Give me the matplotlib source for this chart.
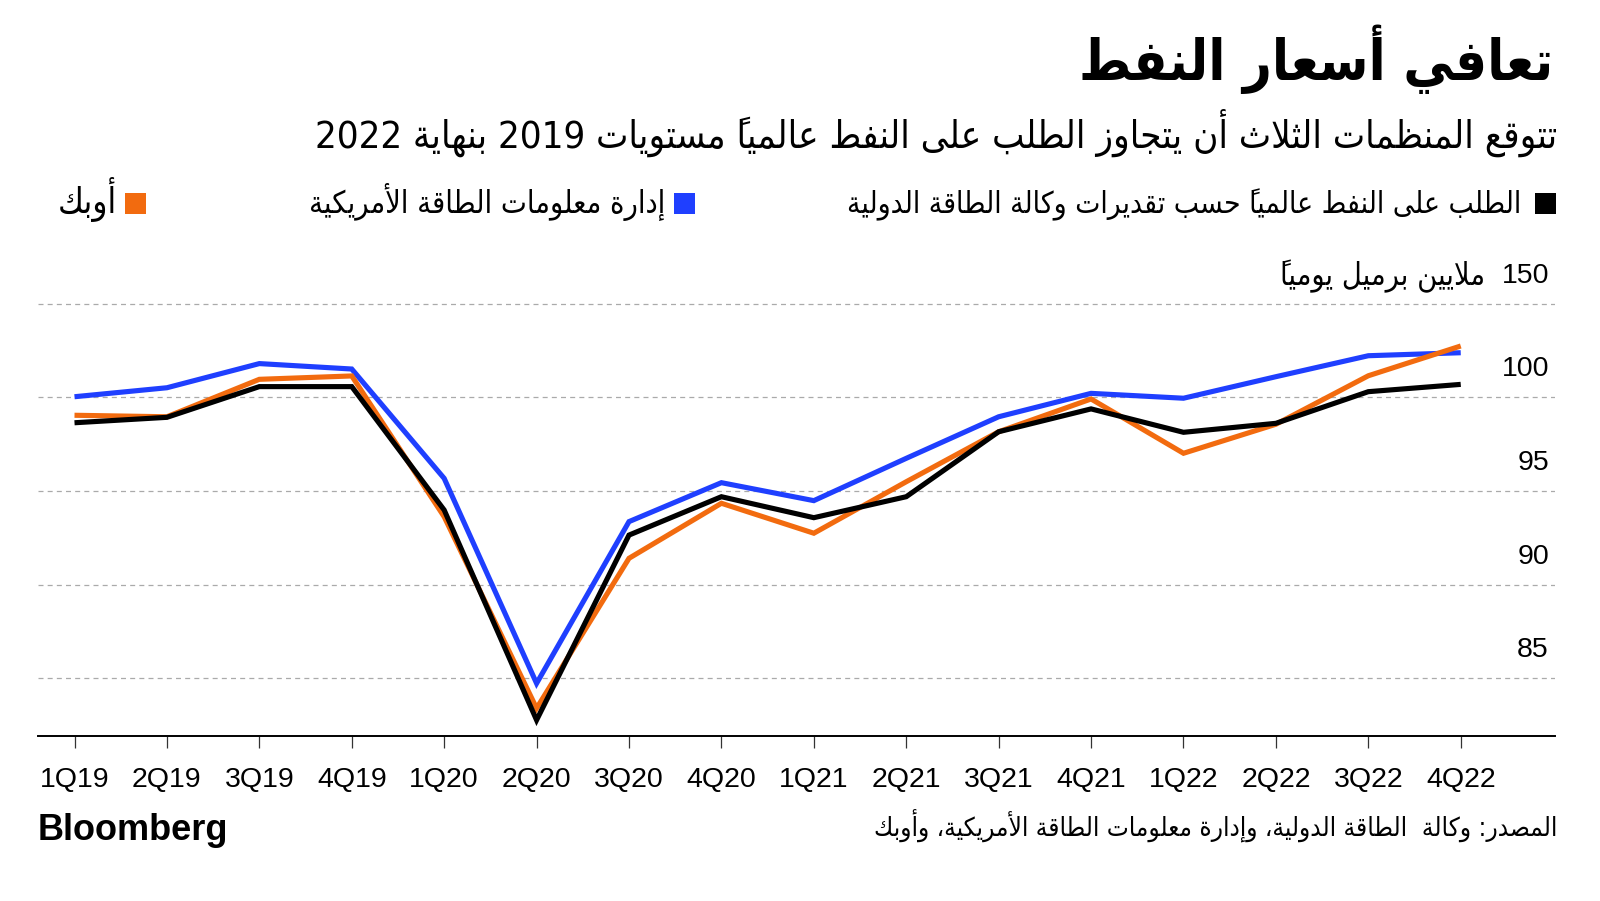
import os
import matplotlib
matplotlib.use('Agg')
import matplotlib.pyplot as plt
from matplotlib import font_manager
from matplotlib.ft2font import FT2Font
from matplotlib.font_manager import FontProperties
from matplotlib.patches import Rectangle
from matplotlib.transforms import blended_transform_factory, offset_copy

# data (million barrels per day)
quarters = ['1Q19', '2Q19', '3Q19', '4Q19', '1Q20', '2Q20', '3Q20', '4Q20',
            '1Q21', '2Q21', '3Q21', '4Q21', '1Q22', '2Q22', '3Q22', '4Q22']
iea = [98.65, 98.94, 100.58, 100.58, 93.99, 82.77, 92.65, 94.70,
       93.58, 94.70, 98.17, 99.39, 98.14, 98.62, 100.31, 100.70]
eia = [100.04, 100.52, 101.81, 101.52, 95.68, 84.73, 93.37, 95.45,
       94.49, 96.75, 98.97, 100.22, 99.96, 101.11, 102.23, 102.39]
opec = [99.05, 98.97, 100.97, 101.15, 93.63, 83.40, 91.41, 94.35,
        92.75, 95.50, 98.17, 99.92, 97.02, 98.57, 101.16, 102.75]
ytick_vals = [85, 90, 95, 100, 105]
ytick_labels = ['85', '90', '95', '100', '150']

title = 'تعافي أسعار النفط'
subtitle = 'تتوقع المنظمات الثلاث أن يتجاوز الطلب على النفط عالمياً مستويات 2019 بنهاية 2022'
legend_labels = ['الطلب على النفط عالمياً حسب تقديرات وكالة الطاقة الدولية',
                 'إدارة معلومات الطاقة الأمريكية',
                 'أوبك']
unit = 'ملايين برميل يومياً'
source = 'المصدر: وكالة  الطاقة الدولية، وإدارة معلومات الطاقة الأمريكية، وأوبك'

colors = ['#000000', '#1f3fff', '#f26b0f']

# --- minimal arabic shaping + rtl ordering (no reshaper libs available) ---
FORMS = {
    'ء': (0xFE80, 1), 'آ': (0xFE81, 2), 'أ': (0xFE83, 2), 'ؤ': (0xFE85, 2),
    'إ': (0xFE87, 2), 'ئ': (0xFE89, 4), 'ا': (0xFE8D, 2), 'ب': (0xFE8F, 4),
    'ة': (0xFE93, 2), 'ت': (0xFE95, 4), 'ث': (0xFE99, 4), 'ج': (0xFE9D, 4),
    'ح': (0xFEA1, 4), 'خ': (0xFEA5, 4), 'د': (0xFEA9, 2), 'ذ': (0xFEAB, 2),
    'ر': (0xFEAD, 2), 'ز': (0xFEAF, 2), 'س': (0xFEB1, 4), 'ش': (0xFEB5, 4),
    'ص': (0xFEB9, 4), 'ض': (0xFEBD, 4), 'ط': (0xFEC1, 4), 'ظ': (0xFEC5, 4),
    'ع': (0xFEC9, 4), 'غ': (0xFECD, 4), 'ف': (0xFED1, 4), 'ق': (0xFED5, 4),
    'ك': (0xFED9, 4), 'ل': (0xFEDD, 4), 'م': (0xFEE1, 4), 'ن': (0xFEE5, 4),
    'ه': (0xFEE9, 4), 'و': (0xFEED, 2), 'ى': (0xFEEF, 2), 'ي': (0xFEF1, 4),
    'لآ': (0xFEF5, 2), 'لأ': (0xFEF7, 2), 'لإ': (0xFEF9, 2), 'لا': (0xFEFB, 2),
}
MARKS = set(chr(c) for c in range(0x064B, 0x0660)) | {'\u0670'}


def shape(s):
    items = []
    i = 0
    while i < len(s):
        c = s[i]
        if c in MARKS and items:
            items[-1][1] += c
            i += 1
            continue
        if c == 'ل' and i + 1 < len(s) and s[i + 1] in 'آأإا':
            items.append([c + s[i + 1], ''])
            i += 2
            continue
        items.append([c, ''])
        i += 1
    out = ''
    for k, (key, marks) in enumerate(items):
        if key not in FORMS:
            out += key + marks
            continue
        base, n = FORMS[key]
        prev = k > 0 and items[k - 1][0] in FORMS and FORMS[items[k - 1][0]][1] == 4
        nxt = n == 4 and k + 1 < len(items) and items[k + 1][0] in FORMS
        if n == 1:
            idx = 0
        elif n == 2:
            idx = 1 if prev else 0
        else:
            idx = 3 if (prev and nxt) else 1 if prev else 2 if nxt else 0
        out += chr(base + idx) + marks
    return out


def rtl(s):
    s = shape(s)
    runs = []
    for ch in s:
        ltr = ch.isascii() and ch.isalnum()
        if runs and runs[-1][0] == ltr:
            runs[-1][1] += ch
        else:
            runs.append([ltr, ch])
    out = []
    for ltr, txt in reversed(runs):
        # marks end up before their base, so they sit over it
        out.append(txt if ltr else txt[::-1])
    return ''.join(out)


def arabic_font(bold):
    want = 'DejaVuSansCondensed-Bold.ttf' if bold else 'DejaVuSansCondensed.ttf'
    for f in font_manager.fontManager.ttflist:
        if os.path.basename(f.fname) == want:
            try:
                if 0xFEFB in FT2Font(f.fname).get_charmap():
                    return FontProperties(fname=f.fname)
            except Exception:
                pass
    return FontProperties(family='DejaVu Sans', weight='bold' if bold else 'normal')


ar_bold = arabic_font(True)
ar_reg = arabic_font(False)
latin = FontProperties(family=['Liberation Sans', 'DejaVu Sans'])

plt.rcParams['lines.scale_dashes'] = False

W, H = 1600, 901
fig = plt.figure(figsize=(W / 100, H / 100), dpi=100)
fx = lambda px: px / W
fy = lambda py: 1 - py / H

# axes: x from px 38 to 1555, y bottom px 736 (81.92) to top px 294.5 (105.5)
ax = fig.add_axes([fx(38), fy(736), fx(1555) - fx(38), fy(294.5) - fy(736)])
x = list(range(len(quarters)))
for series, c in [(eia, colors[1]), (opec, colors[2]), (iea, colors[0])]:
    ax.plot(x, series, color=c, lw=3.7, solid_joinstyle='miter', solid_capstyle='butt', zorder=3)

ax.set_xlim(-0.395, 16.02)
ax.set_ylim(81.92, 105.5)
ax.set_xticks(x)
ax.set_xticklabels(quarters, fontproperties=latin, fontsize=20.5)
ax.set_yticks(ytick_vals)
ax.set_yticklabels([])
ax.tick_params(axis='y', length=0)
ax.tick_params(axis='x', length=8.5, width=0.9, color='#333333', pad=14)
ax.grid(axis='y', color='#aaaaaa', lw=0.9, linestyle=(0, (3.6, 3.0)))
ax.set_axisbelow(True)
for s in ['top', 'left', 'right']:
    ax.spines[s].set_visible(False)
ax.spines['bottom'].set_linewidth(1.4)
ax.spines['bottom'].set_zorder(4)

ytrans = offset_copy(blended_transform_factory(ax.transAxes, ax.transData),
                     fig=fig, x=0, y=28, units='dots')
xr = (1549 - 38) / (1555 - 38)
for v, lab in zip(ytick_vals, ytick_labels):
    ax.text(xr, v, lab, transform=ytrans, ha='right', va='center',
            fontproperties=latin, fontsize=20.5)

renderer = fig.canvas.get_renderer()


def ftext(px_right, py, s, fp, size, width=None, va='baseline', color='black'):
    t = fig.text(fx(px_right), fy(py), rtl(s), ha='right', va=va,
                 fontproperties=fp, fontsize=size, color=color)
    if width:
        for _ in range(2):
            w = t.get_window_extent(renderer).width
            t.set_fontsize(t.get_fontsize() * width / w)
    return t


ftext(1553, 80, title, ar_bold, 38, width=474)
ftext(1557, 148, subtitle, ar_reg, 24, width=1244)

# legend
leg = [(1521, 845, 1535), (665, 309, 674), (117, 58, 125.5)]
for (r, l, sq), lab, c in zip(leg, legend_labels, colors):
    ftext(r, 213, lab, ar_reg, 17, width=r - l)
    fig.add_artist(Rectangle((fx(sq), fy(214)), 21 / W, 21 / H,
                             transform=fig.transFigure, color=c, lw=0))

ftext(1485, 285, unit, ar_reg, 18, width=1485 - 1279)
ftext(1557, 837, source, ar_reg, 16, width=1557 - 874)

fig.text(fx(38), fy(840), 'Bloomberg', ha='left', va='baseline',
         fontproperties=FontProperties(family=['Liberation Sans', 'DejaVu Sans'], weight='bold'),
         fontsize=26)

fig.savefig('out.png', dpi=100)
